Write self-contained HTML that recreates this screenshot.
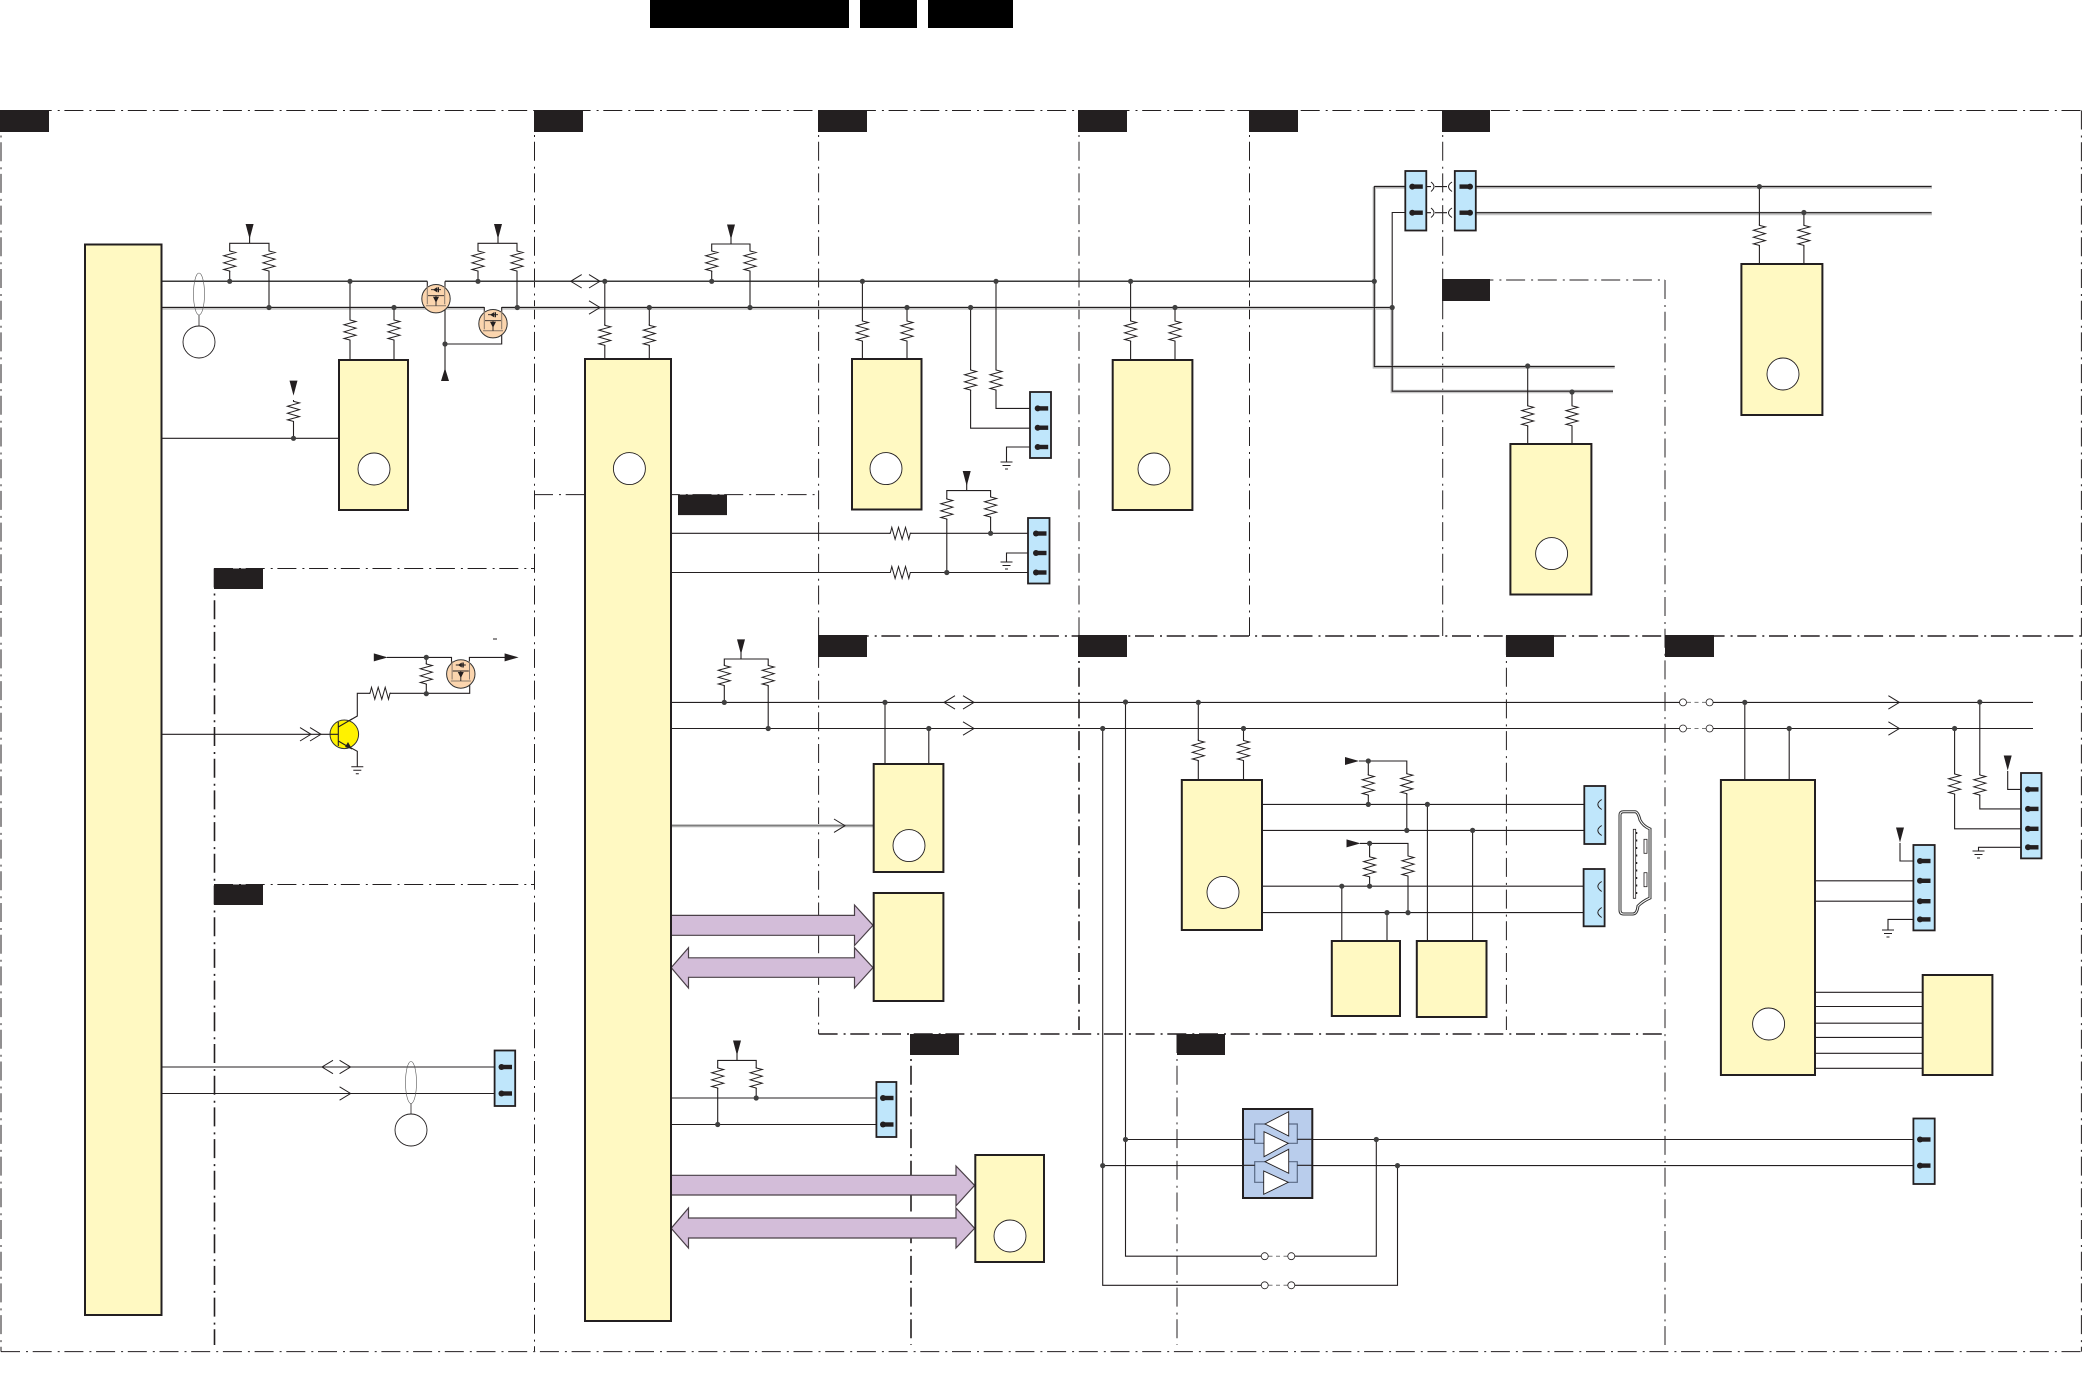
<!DOCTYPE html>
<html><head><meta charset="utf-8"><title>Block diagram</title>
<style>html,body{margin:0;padding:0;background:#fff}svg{display:block}</style></head>
<body>
<svg xmlns="http://www.w3.org/2000/svg" width="2082" height="1383" viewBox="0 0 2082 1383">
<defs>
<circle id="n" r="2.6" fill="#404040"/>
<g id="rv"><rect x="-7" y="-10" width="14" height="20" fill="#fff"/><path d="M0,-11 L0,-10 L6,-8.5 L-6,-5.2 L6,-1.8 L-6,1.8 L6,5.2 L-6,8.5 L0,10 L0,11" fill="none" stroke="#231f20" stroke-width="1"/></g>
<path id="ad" d="M-4,0H4L0,15Z" fill="#231f20"/>
<path id="au" d="M-4,13H4L0,0Z" fill="#231f20"/>
<path id="ar" d="M0,-4V4L14,0Z" fill="#231f20"/>
<path id="o" d="M-11,-6.7L0,0L-11,6.7" fill="none" stroke="#231f20" stroke-width="1"/>
<path id="ol" d="M11,-6.7L0,0L11,6.7" fill="none" stroke="#231f20" stroke-width="1"/>
<path id="g" d="M-6,0H6M-4,3.5H4M-1.5,7H1.5" fill="none" stroke="#231f20" stroke-width="1"/>
<g id="pr"><rect x="0" y="-2.2" width="10.5" height="4.4" fill="#231f20"/><circle r="3" fill="#231f20"/></g>
<g id="pl"><rect x="-10.5" y="-2.2" width="10.5" height="4.4" fill="#231f20"/><circle r="3" fill="#231f20"/></g>
<g id="sw"><circle r="3.5" fill="#fff" stroke="#231f20" stroke-width=".8"/></g>
<g id="fet"><circle r="14.2" fill="#fbd5ae" stroke="#333" stroke-width="1"/><path d="M-8.7,-13V5.5M8.7,-13V5.5M-10,7H10" fill="none" stroke="#8a7a6c" stroke-width="1"/><path d="M-8,-3H8M-5,-9H5M0,-3V7" fill="none" stroke="#231f20" stroke-width=".9"/><path d="M-3,-9L1,-11.5V-6.5Z M-3,-2H3L0,4Z M1.5,-11.5H3V-6.5H1.5Z" fill="#231f20"/></g>
<g id="cir"><circle r="16" fill="#fff" stroke="#231f20" stroke-width=".9"/></g>
</defs>

<!-- dashed section frames -->
<g fill="none" stroke="#231f20" stroke-width="1" stroke-dasharray="19 6 2 4.7">
<path d="M1,110.5H2081.4"/><path d="M1,1351.6H2081.4"/><path d="M1,110.5V1351.6"/><path d="M2081.4,110.5V1351.6"/>
<path d="M534.5,110V1351"/><path d="M818.6,110V1034"/><path d="M1079,110V636"/><path d="M1249.5,110V636"/><path d="M1442.7,110V636"/>
<path d="M1442.7,280H1665"/><path d="M1665,280V1345"/><path d="M214,568.5H534"/><path d="M214,884.5H534"/><path d="M534,494.6H818"/>
<path d="M1506.4,636V1030"/><path d="M1177,1034V1345"/>
</g>
<g fill="none" stroke="#231f20" stroke-width="1.6" stroke-dasharray="19 6 2 4.7">
<path d="M818,636H2081"/><path d="M214.5,568.5V1345"/><path d="M1079,636V1030"/><path d="M818.6,1034H1665"/><path d="M911,1034V1345"/>
</g>

<!-- black label blocks -->
<g fill="#231f20">
<rect x="650" y="0" width="199" height="28" fill="#000"/><rect x="860" y="0" width="57" height="28" fill="#000"/><rect x="928" y="0" width="85" height="28" fill="#000"/>
<rect x="0" y="110" width="49" height="22"/><rect x="534" y="110" width="49" height="22"/><rect x="818" y="110" width="49" height="22"/><rect x="1078" y="110" width="49" height="22"/><rect x="1249" y="110" width="49" height="22"/><rect x="1442" y="110" width="48" height="22"/>
<rect x="1442" y="279" width="48" height="22"/>
<rect x="678" y="494.6" width="49" height="20.5"/><rect x="214" y="568.5" width="49" height="20.5"/><rect x="214" y="884.5" width="49" height="20.5"/>
<rect x="818" y="635" width="49" height="22"/><rect x="1078" y="635" width="49" height="22"/><rect x="1506" y="635" width="48" height="22"/><rect x="1665" y="635" width="49" height="22"/>
<rect x="910" y="1034" width="49" height="21"/><rect x="1177" y="1034" width="48" height="21"/>
</g>

<!-- buses with grey shadow -->
<g fill="none" stroke="#c6c6c6" stroke-width="3.4">
<path d="M161.5,308H484.3M501.7,308H1392.2V391.5H1613"/>
<path d="M1374.3,187H1405M1374.3,187V367H1614.7"/>
<path d="M1475,187H1932M1475,213.5H1932"/>
<path d="M671,825.7H873.7"/>
</g>
<g fill="none" stroke="#3a3a3a" stroke-width="1.5">
<path d="M161.5,281.3H427.3M445,281.3H1374.3"/>
</g>
<g fill="none" stroke="#231f20" stroke-width="1.1">
<path d="M161.5,307.5H484.3V312M501.7,312V307.5H1392.2"/>
<path d="M427.3,281.3V290M445,281.3V380"/>
<path d="M445,344H501.7V332"/>
<path d="M1374.3,281.3V186.6H1405M1392.2,307.5V212.5H1405"/>
<path d="M1374.3,281.3V366.6H1614.7M1392.2,307.5V391.2H1613"/>
<path d="M1475,186.6H1931.5M1475,212.7H1931.5"/>
<path d="M1426,186.6H1431M1426,212.7H1431M1435,186.6H1447M1435,212.7H1447"/>
<path d="M161.5,438.3H339"/>
<!-- pullup groups -->
<path d="M229.7,281.3V243.3H269V307.5M249.6,235V243.3"/>
<path d="M478,281.3V243.3H517V307.5M498,235V243.3"/>
<path d="M711.7,281.3V244H750V307.5M731,235V244"/>
<path d="M350,281.3V359.5M394,307.5V359.5"/>
<path d="M604.8,281.3V358.6M649.3,307.5V358.6"/>
<path d="M862.4,281.3V358.6M907,307.5V358.6"/>
<path d="M970.6,307.5V428.2H1030M996,281.3V408.4H1030M1030,447H1006.5V462"/>
<path d="M1130.6,281.3V359.5M1175,307.5V359.5"/>
<path d="M1527.7,366.6V443.6M1572,392V443.6"/>
<path d="M1759.4,186.6V263.6M1803.9,212.7V263.6"/>
<path d="M293.5,400V438.3"/>
<!-- IC2 right side -->
<path d="M671,533.3H1028M671,572.5H1028M946.8,572.5V490.6H990.6V533.3M966.7,480V490.6M1028,553H1006.5V562"/>
<path d="M671,702.4H1679.5M1713,702.4H2033M671,728.5H1679.5M1713,728.5H2033"/>
<path d="M724.3,702.4V659H768.2V728.5M741,650V659"/>
<path d="M885,702.4V763.8M928.8,728.5V763.8"/>
<path d="M671,1098H877M671,1124.5H877M717.7,1124.5V1060.4H756.2V1098M737,1052V1060.4"/>
<!-- transistor section -->
<path d="M161.5,734.3H338.3M338.3,722V746M338.3,727L357.3,716V693.3H469.7V684M338.3,741L357.3,751.3V766.7"/>
<path d="M387,657.4H451.5V664M469.4,664V657.4H505"/>
<path d="M426.3,657.4V693.7"/>
<path d="M161.5,1067H495M161.5,1093.5H495"/>
<path d="M411,1103.5V1114" stroke-width=".8"/><path d="M199,315V326" stroke-width=".8"/>
<!-- long verticals and loops -->
<path d="M1125.5,702.4V1256.2H1261M1295,1256.2H1376.3V1139.5"/>
<path d="M1102.7,728.5V1285.3H1261M1295,1285.3H1397.5V1165.6"/>
<path d="M1125.5,1139.5H1254.7V1124H1265M1254.7,1124V1143.3H1264M1102.7,1165.6H1254.7M1254.7,1161.7H1265M1254.7,1161.7V1182.3H1264"/>
<path d="M1288.7,1124H1297.3V1143.3H1288.3M1297.3,1139.5H1913.4M1288.7,1161.7H1297.3V1182.3H1288.3M1297.3,1165.6H1913.4"/>
<!-- IC10 -->
<path d="M1198.3,702.4V779.7M1243.5,728.5V779.7"/>
<path d="M1262,804.4H1596M1262,830.4H1596M1262,886.2H1596M1262,912.6H1596"/>
<path d="M1359,761H1406.8V830.4M1368.3,761V804.4"/>
<path d="M1360,843.4H1408V912.6M1369.6,843.4V886.2"/>
<path d="M1427.4,804.4V941M1472.6,830.4V941M1341.8,886.2V941M1387,912.6V941"/>
<!-- IC13 -->
<path d="M1744.8,702.4V779.7M1789.2,728.5V779.7"/>
<path d="M1979.8,702.4V808.9H2028M1954.6,728.5V828.8H2028M2007.7,771V789.4H2028M2028,847.3H1978.5V851"/>
<path d="M1900,843V861H1920M1815,880.8H1920M1815,901.2H1920M1920,919.4H1888V930"/>
<path d="M1815,992.3H1922.7M1815,1006.5H1922.7M1815,1023.2H1922.7M1815,1037.4H1922.7M1815,1053.3H1922.7M1815,1068.3H1922.7"/>
</g>
<path d="M671,825.7H873.7" fill="none" stroke="#666" stroke-width="1"/>
<path d="M1687,702.4H1706M1687,728.5H1706M1268.5,1256.2H1288M1268.5,1285.3H1288" stroke="#777" stroke-width="1" stroke-dasharray="4 3.5" fill="none"/>

<!-- purple bus arrows -->
<g fill="#d3bdd9" stroke="#4a4048" stroke-width="1.2">
<path d="M671,915.4H854.5V905L873,925.3L854.5,945.5V935.3H671Z"/>
<path d="M671.2,967.6L688.5,947.7V957.8H854.5V947.7L873,967.6L854.5,988V977.3H688.5V988Z"/>
<path d="M671,1175.3H956V1166L974.6,1185.4L956,1205.8V1195H671Z"/>
<path d="M671.2,1228.3L688.5,1208V1218H956V1208L974.6,1228.3L956,1248V1238H688.5V1248Z"/>
</g>

<!-- ICs -->
<g fill="#fff9c2" stroke="#231f20" stroke-width="2">
<rect x="85" y="244.5" width="76.5" height="1070.5"/>
<rect x="339" y="360" width="69" height="150"/>
<rect x="585" y="359" width="86" height="962"/>
<rect x="852" y="359" width="69.5" height="150.5"/>
<rect x="1112.7" y="360" width="79.7" height="150"/>
<rect x="1510.4" y="444" width="81" height="150.5"/>
<rect x="1741.4" y="264" width="81" height="151"/>
<rect x="873.7" y="764" width="69.7" height="108"/>
<rect x="873.7" y="893" width="69.7" height="108"/>
<rect x="975.3" y="1155" width="68.7" height="107"/>
<rect x="1181.8" y="780" width="80.2" height="150"/>
<rect x="1331.8" y="941" width="68.2" height="75"/>
<rect x="1416.8" y="941" width="69.7" height="76"/>
<rect x="1720.9" y="780" width="94.1" height="295"/>
<rect x="1922.7" y="975" width="69.7" height="100"/>
</g>
<use href="#cir" x="374" y="469"/><use href="#cir" x="629.4" y="468.6"/><use href="#cir" x="886" y="468.6"/><use href="#cir" x="1154" y="469"/><use href="#cir" x="1551.6" y="553.6"/><use href="#cir" x="1783" y="374"/><use href="#cir" x="909" y="845.6"/><use href="#cir" x="1010" y="1236"/><use href="#cir" x="1223" y="892.4"/><use href="#cir" x="1768.6" y="1024"/>
<use href="#cir" x="199" y="342"/><use href="#cir" x="411" y="1130"/>
<ellipse cx="199" cy="294" rx="5.5" ry="21" fill="none" stroke="#555" stroke-width=".6"/>
<ellipse cx="411" cy="1082.5" rx="5.5" ry="21" fill="none" stroke="#555" stroke-width=".6"/>

<!-- connectors -->
<g fill="#bfe6fb" stroke="#231f20" stroke-width="1.8">
<rect x="1405.3" y="171" width="21" height="59.5"/><rect x="1454.8" y="171" width="21" height="59.5"/>
<rect x="1030" y="392" width="21" height="66"/><rect x="1028" y="518" width="21.5" height="65.5"/>
<rect x="494.6" y="1050.5" width="20.6" height="55.5"/><rect x="876.4" y="1082" width="20" height="55"/>
<rect x="1584.3" y="786" width="21" height="58"/><rect x="1583.6" y="869" width="21" height="57.3"/>
<rect x="2021" y="773" width="20.5" height="85.4"/><rect x="1913.4" y="845" width="21.3" height="85.4"/><rect x="1913.4" y="1118.5" width="21.3" height="65.5"/>
</g>
<g>
<use href="#pr" x="1412.3" y="186.6"/><use href="#pr" x="1412.3" y="212.7"/><use href="#pl" x="1470" y="186.6"/><use href="#pl" x="1470" y="212.7"/>
<use href="#pr" x="1037.7" y="408.4"/><use href="#pr" x="1037.7" y="427.7"/><use href="#pr" x="1037.7" y="447"/>
<use href="#pr" x="1036" y="533.5"/><use href="#pr" x="1036" y="553"/><use href="#pr" x="1036" y="572.5"/>
<use href="#pr" x="501.5" y="1067"/><use href="#pr" x="501.5" y="1093.5"/>
<use href="#pr" x="883" y="1098"/><use href="#pr" x="883" y="1124.5"/>
<use href="#pr" x="2028" y="789.4"/><use href="#pr" x="2028" y="808.9"/><use href="#pr" x="2028" y="828.8"/><use href="#pr" x="2028" y="847.3"/>
<use href="#pr" x="1920" y="861"/><use href="#pr" x="1920" y="880.8"/><use href="#pr" x="1920" y="901.2"/><use href="#pr" x="1920" y="919.4"/>
<use href="#pr" x="1920" y="1139.5"/><use href="#pr" x="1920" y="1165.6"/>
</g>
<!-- mated contact arcs -->
<g fill="none" stroke="#231f20" stroke-width="1">
<path d="M1431,182Q1437,186.6 1431,191.5M1431,208Q1437,212.7 1431,217.5M1452,182Q1445,186.6 1452,191.5M1452,208Q1445,212.7 1452,217.5"/>
<path d="M1601.7,799.5Q1594,804.4 1601.7,809.5M1601.7,825.5Q1594,830.4 1601.7,835.5M1601.7,881.5Q1594,886.2 1601.7,891.5M1601.7,907.5Q1594,912.6 1601.7,917.5"/>
</g>

<!-- HDMI socket -->
<path d="M1623.5,811.7H1635Q1638,811.7 1640,820Q1643,826 1650,829V898Q1643,901 1638,906Q1637,914 1633,914H1623.5Q1620,914 1620,910V815Q1620,811.7 1623.5,811.7Z" fill="none" stroke="#333" stroke-width="3"/>
<path d="M1623.5,811.7H1635Q1638,811.7 1640,820Q1643,826 1650,829V898Q1643,901 1638,906Q1637,914 1633,914H1623.5Q1620,914 1620,910V815Q1620,811.7 1623.5,811.7Z" fill="none" stroke="#fff" stroke-width="1"/>
<rect x="1633.3" y="829.3" width="2.4" height="69" fill="#fff" stroke="#231f20" stroke-width=".8"/>
<path d="M1636.5,832V897" stroke="#231f20" stroke-width="1.5" stroke-dasharray="2 5.5"/>
<rect x="1644" y="839.3" width="3" height="14" fill="#fff" stroke="#231f20" stroke-width=".8"/>
<rect x="1644" y="872.7" width="3" height="14" fill="#fff" stroke="#231f20" stroke-width=".8"/>

<!-- buffer block -->
<rect x="1243" y="1109" width="69.3" height="89" fill="#b9cdec" stroke="#231f20" stroke-width="2"/>
<g fill="none" stroke="#5a6a85" stroke-width="1.2">
<path d="M1265,1124H1254.7V1143.3H1264M1288.7,1124H1297.3V1143.3H1288.3"/>
<path d="M1265,1161.7H1254.7V1182.3H1264M1288.7,1161.7H1297.3V1182.3H1288.3"/>
</g>
<path d="M1243,1139.3H1254.7M1243,1165.3H1254.7M1297.3,1139.3H1312.3M1297.3,1165.3H1312.3" stroke="#231f20" stroke-width="1.1"/>
<g fill="#fff" stroke="#231f20" stroke-width=".9">
<path d="M1265,1124L1288.7,1111.7V1136Z"/><path d="M1288.3,1143.3L1264,1131.7V1156.7Z"/>
<path d="M1265,1161.7L1288.7,1149.3V1173.3Z"/><path d="M1288.3,1182.3L1263.7,1171V1194.3Z"/>
</g>

<!-- transistors -->
<use href="#fet" x="436" y="298.7"/><use href="#fet" x="493" y="323.7"/><use href="#fet" x="460.8" y="674"/>
<circle cx="344.3" cy="734.3" r="14.3" fill="#fff200" stroke="#333" stroke-width="1"/>
<path d="M330,734.3H338.3M338.3,722V746M338.3,727L352,719M338.3,741L352,749" fill="none" stroke="#231f20" stroke-width="1.1"/>
<path d="M352,749L345,747L348,742Z" fill="#231f20"/>

<!-- resistors -->
<g>
<use href="#rv" x="229.7" y="261"/><use href="#rv" x="269" y="261"/><use href="#rv" x="478" y="261"/><use href="#rv" x="517" y="261"/><use href="#rv" x="711.7" y="261"/><use href="#rv" x="750" y="261"/>
<use href="#rv" x="350" y="330"/><use href="#rv" x="394" y="330"/><use href="#rv" x="604.8" y="335.3"/><use href="#rv" x="649.3" y="335.3"/><use href="#rv" x="862.4" y="331"/><use href="#rv" x="907" y="331"/>
<use href="#rv" x="970.6" y="380"/><use href="#rv" x="996" y="380"/><use href="#rv" x="1130.6" y="331"/><use href="#rv" x="1175" y="331"/>
<use href="#rv" x="1527.7" y="415.8"/><use href="#rv" x="1572" y="415.8"/><use href="#rv" x="1759.4" y="235.4"/><use href="#rv" x="1803.9" y="235.4"/>
<use href="#rv" x="293.5" y="411.4"/><use href="#rv" x="946.8" y="509"/><use href="#rv" x="990.6" y="507"/><use href="#rv" x="426.3" y="674"/>
<use href="#rv" x="724.3" y="675.5"/><use href="#rv" x="768.2" y="675.5"/><use href="#rv" x="717.7" y="1078"/><use href="#rv" x="756.2" y="1078"/>
<use href="#rv" x="1198.3" y="750.5"/><use href="#rv" x="1243.5" y="750.5"/><use href="#rv" x="1368.3" y="785"/><use href="#rv" x="1406.8" y="783.7"/><use href="#rv" x="1369.6" y="866.8"/><use href="#rv" x="1408" y="866"/>
<use href="#rv" x="1954.6" y="784"/><use href="#rv" x="1979.8" y="785"/>
<use href="#rv" transform="translate(900.3,533.3) rotate(90)"/><use href="#rv" transform="translate(900.3,572.5) rotate(90)"/><use href="#rv" transform="translate(380,693.3) rotate(90)"/>
</g>

<!-- nodes -->
<g>
<use href="#n" x="229.7" y="281.3"/><use href="#n" x="269" y="307.5"/><use href="#n" x="350" y="281.3"/><use href="#n" x="394" y="307.5"/><use href="#n" x="478" y="281.3"/><use href="#n" x="517.3" y="307.5"/><use href="#n" x="445" y="344"/>
<use href="#n" x="604.8" y="281.3"/><use href="#n" x="649.3" y="307.5"/><use href="#n" x="711.7" y="281.3"/><use href="#n" x="750" y="307.5"/><use href="#n" x="862.4" y="281.3"/><use href="#n" x="907" y="307.5"/><use href="#n" x="970.6" y="307.5"/><use href="#n" x="996" y="281.3"/>
<use href="#n" x="1130.6" y="281.3"/><use href="#n" x="1175" y="307.5"/><use href="#n" x="1374.3" y="281.3"/><use href="#n" x="1392.2" y="307.5"/>
<use href="#n" x="1527.7" y="366"/><use href="#n" x="1572" y="392"/><use href="#n" x="1759.4" y="186.6"/><use href="#n" x="1803.9" y="212.5"/>
<use href="#n" x="293.5" y="438.3"/><use href="#n" x="946.8" y="572.5"/><use href="#n" x="990.6" y="533.3"/>
<use href="#n" x="426.3" y="657.4"/><use href="#n" x="426.3" y="693.7"/>
<use href="#n" x="724.3" y="702.4"/><use href="#n" x="768.2" y="728.5"/><use href="#n" x="885" y="702.4"/><use href="#n" x="928.8" y="728.5"/>
<use href="#n" x="717.7" y="1124.5"/><use href="#n" x="756.2" y="1098"/>
<use href="#n" x="1125.5" y="702"/><use href="#n" x="1102.7" y="728.5"/><use href="#n" x="1198.3" y="702.4"/><use href="#n" x="1243.5" y="728.5"/>
<use href="#n" x="1125.5" y="1139.5"/><use href="#n" x="1102.7" y="1165.6"/><use href="#n" x="1376.3" y="1139.5"/><use href="#n" x="1397.5" y="1165.6"/>
<use href="#n" x="1368.3" y="761"/><use href="#n" x="1368.3" y="804.4"/><use href="#n" x="1406.8" y="830.4"/><use href="#n" x="1427.4" y="804.4"/><use href="#n" x="1472.6" y="830.4"/>
<use href="#n" x="1369.6" y="843.4"/><use href="#n" x="1369.6" y="886.2"/><use href="#n" x="1408" y="912.6"/><use href="#n" x="1341.8" y="886.2"/><use href="#n" x="1387" y="912.6"/>
<use href="#n" x="1744.8" y="702.4"/><use href="#n" x="1789.2" y="728.5"/><use href="#n" x="1979.8" y="702"/><use href="#n" x="1954.6" y="728.5"/>
</g>

<!-- filled arrows -->
<g>
<use href="#ad" x="249.6" y="224"/><use href="#ad" x="498" y="224"/><use href="#ad" x="731" y="224.5"/><use href="#ad" x="293.5" y="380.6"/><use href="#ad" x="966.7" y="471"/><use href="#ad" x="741" y="639.4"/><use href="#ad" x="737" y="1040.5"/><use href="#ad" x="2007.7" y="755.5"/><use href="#ad" x="1900" y="827.5"/>
<use href="#au" x="445" y="368"/>
<use href="#ar" x="373.8" y="657.4"/><use href="#ar" x="504.6" y="657.4"/><use href="#ar" x="1345" y="761"/><use href="#ar" x="1346.5" y="843.4"/>
</g>

<!-- open arrows -->
<g>
<use href="#ol" x="570.7" y="281.3"/><use href="#o" x="600" y="281.3"/><use href="#o" x="600" y="307.5"/>
<use href="#ol" x="944" y="702.4"/><use href="#o" x="974" y="702.4"/><use href="#o" x="974" y="728.5"/><use href="#o" x="845" y="825.7"/>
<use href="#ol" x="322" y="1067"/><use href="#o" x="350.6" y="1067"/><use href="#o" x="350.6" y="1093.5"/>
<use href="#o" x="1899.4" y="702.4"/><use href="#o" x="1899.4" y="728.5"/>
<use href="#o" x="311" y="734.3"/><use href="#o" x="321" y="734.3"/>
</g>

<!-- grounds -->
<use href="#g" x="1006.5" y="462"/><use href="#g" x="1006.5" y="562"/><use href="#g" x="357.3" y="766.7"/><use href="#g" x="1978.5" y="851"/><use href="#g" x="1888" y="930"/>

<!-- switches -->
<use href="#sw" x="1683" y="702.4"/><use href="#sw" x="1709.6" y="702.4"/><use href="#sw" x="1683" y="728.5"/><use href="#sw" x="1709.6" y="728.5"/>
<use href="#sw" x="1264.7" y="1256.2"/><use href="#sw" x="1291.3" y="1256.2"/><use href="#sw" x="1264.7" y="1285.3"/><use href="#sw" x="1291.3" y="1285.3"/>
<path d="M493,639H497" stroke="#231f20" stroke-width="1"/>
</svg>
</body></html>
